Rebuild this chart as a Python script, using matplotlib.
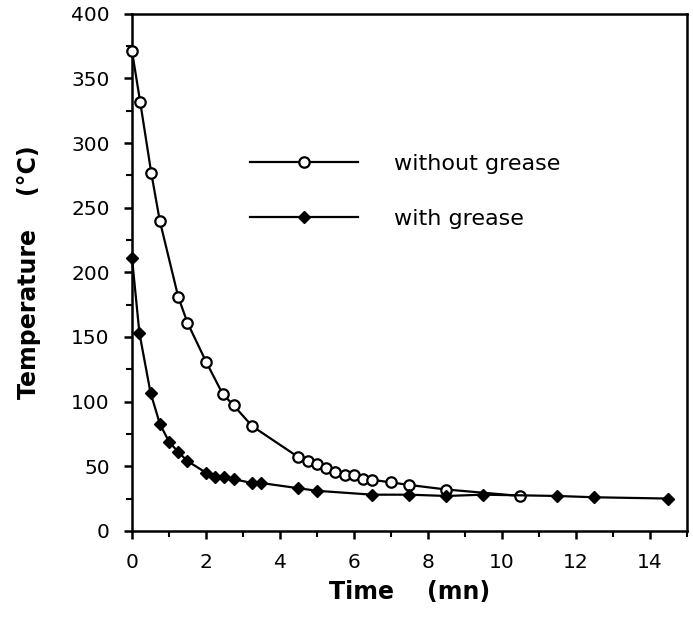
import matplotlib
matplotlib.use('Agg')
import matplotlib.pyplot as plt
from matplotlib.ticker import MultipleLocator

plt.rcParams['font.family'] = ['DejaVu Sans']

# Cooling curves
time_without = [0, 0.22, 0.52, 0.75, 1.25, 1.5, 2.0, 2.45, 2.75, 3.25, 4.5, 4.75,
                5.0, 5.25, 5.5, 5.75, 6.0, 6.25, 6.5, 7.0, 7.5, 8.5, 10.5]
temp_without = [371, 332, 277, 240, 181, 161, 131, 106, 97, 81, 57, 54,
                51.5, 49, 45.5, 43, 43, 40.5, 39.5, 37.5, 35.5, 32, 27]

time_with = [0, 0.2, 0.5, 0.75, 1.0, 1.25, 1.5, 2.0, 2.25, 2.5, 2.75, 3.25, 3.5,
             4.5, 5.0, 6.5, 7.5, 8.5, 9.5, 11.5, 12.5, 14.5]
temp_with = [211, 153, 107, 83, 69, 61, 54, 45, 42, 42, 40, 37, 37,
             33, 31, 28, 28, 27, 28, 27, 26, 25]

x_ticks = [0, 2, 4, 6, 8, 10, 12, 14]
y_ticks = [0, 50, 100, 150, 200, 250, 300, 350, 400]

fig = plt.figure(figsize=(6.93, 6.29), dpi=100)
ax = fig.add_axes([0.1905, 0.156, 0.8005, 0.822])

ax.plot(time_without, temp_without, '-o', color='black', lw=1.6,
        markersize=7.5, markerfacecolor='white', markeredgewidth=1.6,
        label='without grease', clip_on=False, zorder=3)
ax.plot(time_with, temp_with, '-D', color='black', lw=1.6,
        markersize=6.5, markerfacecolor='black',
        label='with grease', clip_on=False, zorder=4)

ax.set_xlim(0, 15)
ax.set_ylim(0, 400)
ax.set_xticks(x_ticks)
ax.set_yticks(y_ticks)
ax.xaxis.set_minor_locator(MultipleLocator(1))
ax.yaxis.set_minor_locator(MultipleLocator(25))
ax.tick_params(which='major', direction='out', length=6, width=1.8, labelsize=14.5, pad=10)
ax.tick_params(which='minor', direction='out', length=4, width=1.5)
for s in ax.spines.values():
    s.set_linewidth(1.8)

ax.set_xlabel('Time    (mn)', fontsize=17, fontweight='bold', labelpad=6)
ax.set_ylabel('Temperature    (°C)', fontsize=17, fontweight='bold', labelpad=22)

ax.legend(loc='center left', bbox_to_anchor=(250 / 693, 1 - 191.5 / 629),
          bbox_transform=fig.transFigure, frameon=False, fontsize=16,
          handlelength=4.86, handletextpad=1.6, labelspacing=1.55,
          borderpad=0, borderaxespad=0, numpoints=1)

fig.savefig('out.png', dpi=100)
